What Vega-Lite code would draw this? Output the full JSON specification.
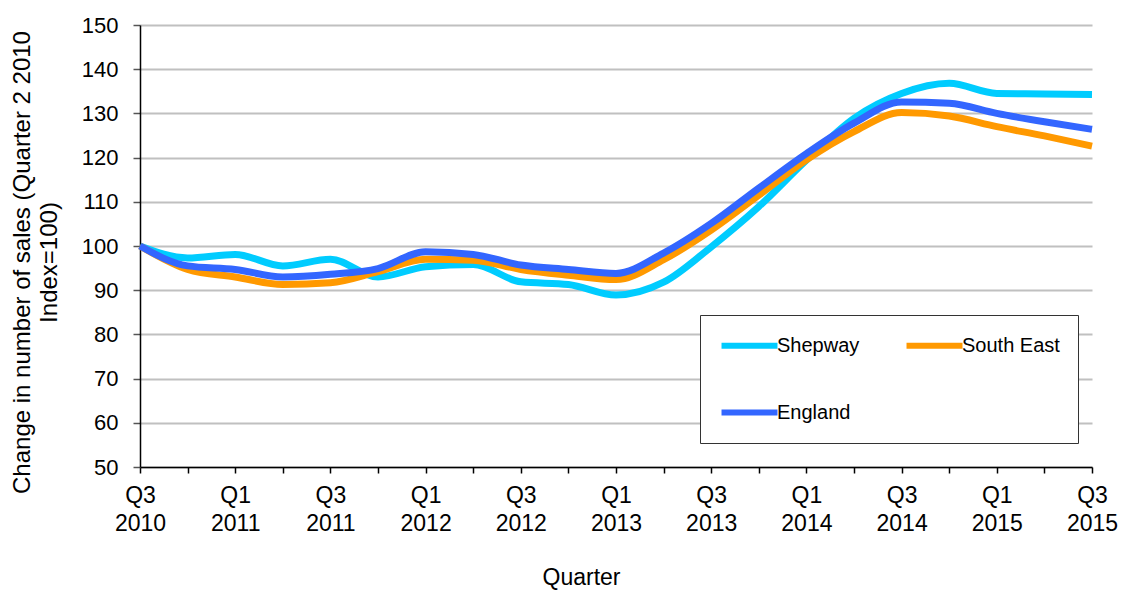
{
  "$schema": "https://vega.github.io/schema/vega-lite/v6.json",
  "width": 952,
  "height": 442,
  "autosize": "none",
  "padding": {"left": 140, "top": 25, "right": 29, "bottom": 123},
  "background": "white",
  "config": {
    "view": {"stroke": null},
    "font": "Liberation Sans"
  },
  "data": {
    "values": [
      {"quarter": "Q3 2010", "area": "Shepway", "index": 100},
      {"quarter": "Q4 2010", "area": "Shepway", "index": 97.3},
      {"quarter": "Q1 2011", "area": "Shepway", "index": 98.1},
      {"quarter": "Q2 2011", "area": "Shepway", "index": 95.5},
      {"quarter": "Q3 2011", "area": "Shepway", "index": 97.0},
      {"quarter": "Q4 2011", "area": "Shepway", "index": 93.0},
      {"quarter": "Q1 2012", "area": "Shepway", "index": 95.3},
      {"quarter": "Q2 2012", "area": "Shepway", "index": 95.8},
      {"quarter": "Q3 2012", "area": "Shepway", "index": 91.9},
      {"quarter": "Q4 2012", "area": "Shepway", "index": 91.3},
      {"quarter": "Q1 2013", "area": "Shepway", "index": 88.9},
      {"quarter": "Q2 2013", "area": "Shepway", "index": 91.8},
      {"quarter": "Q3 2013", "area": "Shepway", "index": 99.8},
      {"quarter": "Q4 2013", "area": "Shepway", "index": 108.9},
      {"quarter": "Q1 2014", "area": "Shepway", "index": 119.4},
      {"quarter": "Q2 2014", "area": "Shepway", "index": 128.9},
      {"quarter": "Q3 2014", "area": "Shepway", "index": 134.5},
      {"quarter": "Q4 2014", "area": "Shepway", "index": 136.8},
      {"quarter": "Q1 2015", "area": "Shepway", "index": 134.5},
      {"quarter": "Q2 2015", "area": "Shepway", "index": 134.4},
      {"quarter": "Q3 2015", "area": "Shepway", "index": 134.3},
      {"quarter": "Q3 2010", "area": "South East", "index": 100},
      {"quarter": "Q4 2010", "area": "South East", "index": 94.7},
      {"quarter": "Q1 2011", "area": "South East", "index": 93.0},
      {"quarter": "Q2 2011", "area": "South East", "index": 91.3},
      {"quarter": "Q3 2011", "area": "South East", "index": 91.7},
      {"quarter": "Q4 2011", "area": "South East", "index": 94.2},
      {"quarter": "Q1 2012", "area": "South East", "index": 97.0},
      {"quarter": "Q2 2012", "area": "South East", "index": 96.8},
      {"quarter": "Q3 2012", "area": "South East", "index": 94.7},
      {"quarter": "Q4 2012", "area": "South East", "index": 93.4},
      {"quarter": "Q1 2013", "area": "South East", "index": 92.4},
      {"quarter": "Q2 2013", "area": "South East", "index": 96.9},
      {"quarter": "Q3 2013", "area": "South East", "index": 103.6},
      {"quarter": "Q4 2013", "area": "South East", "index": 111.5},
      {"quarter": "Q1 2014", "area": "South East", "index": 119.5},
      {"quarter": "Q2 2014", "area": "South East", "index": 125.9},
      {"quarter": "Q3 2014", "area": "South East", "index": 130.2},
      {"quarter": "Q4 2014", "area": "South East", "index": 129.4},
      {"quarter": "Q1 2015", "area": "South East", "index": 127.0},
      {"quarter": "Q2 2015", "area": "South East", "index": 124.9},
      {"quarter": "Q3 2015", "area": "South East", "index": 122.6},
      {"quarter": "Q3 2010", "area": "England", "index": 100},
      {"quarter": "Q4 2010", "area": "England", "index": 95.5},
      {"quarter": "Q1 2011", "area": "England", "index": 94.7},
      {"quarter": "Q2 2011", "area": "England", "index": 93.0},
      {"quarter": "Q3 2011", "area": "England", "index": 93.6},
      {"quarter": "Q4 2011", "area": "England", "index": 94.9},
      {"quarter": "Q1 2012", "area": "England", "index": 98.7},
      {"quarter": "Q2 2012", "area": "England", "index": 98.1},
      {"quarter": "Q3 2012", "area": "England", "index": 95.7},
      {"quarter": "Q4 2012", "area": "England", "index": 94.7},
      {"quarter": "Q1 2013", "area": "England", "index": 93.8},
      {"quarter": "Q2 2013", "area": "England", "index": 98.4},
      {"quarter": "Q3 2013", "area": "England", "index": 105.1},
      {"quarter": "Q4 2013", "area": "England", "index": 113.1},
      {"quarter": "Q1 2014", "area": "England", "index": 120.9},
      {"quarter": "Q2 2014", "area": "England", "index": 127.8},
      {"quarter": "Q3 2014", "area": "England", "index": 132.6},
      {"quarter": "Q4 2014", "area": "England", "index": 132.3},
      {"quarter": "Q1 2015", "area": "England", "index": 130.0},
      {"quarter": "Q2 2015", "area": "England", "index": 128.1},
      {"quarter": "Q3 2015", "area": "England", "index": 126.4}
    ]
  },
  "mark": {"type": "line", "strokeWidth": 7, "interpolate": "monotone", "strokeCap": "butt"},
  "encoding": {
    "x": {
      "field": "quarter",
      "type": "ordinal",
      "sort": null,
      "scale": {"type": "point", "padding": 0},
      "axis": {
        "title": "Quarter",
        "titleFont": "Liberation Sans",
        "titleFontSize": 23,
        "titleFontWeight": "normal",
        "titleColor": "black",
        "titleX": 441,
        "titleY": 99,
        "titleAlign": "center",
        "titleBaseline": "top",
        "labelAngle": 0,
        "labelExpr": "test(/^Q[13]/, datum.label) ? split(datum.label, ' ') : ''",
        "labelFont": "Liberation Sans",
        "labelFontSize": 23,
        "labelLineHeight": 28,
        "labelColor": "black",
        "labelPadding": 11,
        "labelBaseline": "top",
        "labelOverlap": false,
        "domainColor": "black",
        "domainWidth": 1.5,
        "tickColor": "black",
        "tickSize": 6,
        "tickWidth": 1.5,
        "grid": false
      }
    },
    "y": {
      "field": "index",
      "type": "quantitative",
      "scale": {"domain": [50, 150], "nice": false, "zero": false},
      "axis": {
        "title": ["Change in number of sales (Quarter 2 2010", "Index=100)"],
        "titleFont": "Liberation Sans",
        "titleFontSize": 24,
        "titleFontWeight": "normal",
        "titleColor": "black",
        "titleLineHeight": 27,
        "titleX": -118,
        "titleY": 237,
        "titleAngle": -90,
        "titleAlign": "center",
        "titleBaseline": "middle",
        "values": [50, 60, 70, 80, 90, 100, 110, 120, 130, 140, 150],
        "labelFont": "Liberation Sans",
        "labelFontSize": 22,
        "labelColor": "black",
        "labelPadding": 15,
        "domainColor": "black",
        "domainWidth": 1.5,
        "tickColor": "#555",
        "tickSize": 7,
        "tickWidth": 1.5,
        "grid": true,
        "gridColor": "#c0c0c0",
        "gridWidth": 2
      }
    },
    "color": {
      "field": "area",
      "type": "nominal",
      "sort": ["Shepway", "South East", "England"],
      "scale": {"domain": ["Shepway", "South East", "England"], "range": ["#00CCFF", "#FF9900", "#3366FF"]},
      "legend": {
        "title": null,
        "orient": "none",
        "legendX": 560,
        "legendY": 290,
        "direction": "horizontal",
        "columns": 2,
        "symbolType": "M-3,0H3",
        "symbolSize": 348,
        "symbolStrokeWidth": 6,
        "symbolOffset": 19,
        "labelOffset": 15,
        "labelFont": "Liberation Sans",
        "labelFontSize": 20,
        "labelColor": "black",
        "strokeColor": "#333",
        "fillColor": "white",
        "padding": 18,
        "rowPadding": 42,
        "columnPadding": 34
      }
    }
  }
}
